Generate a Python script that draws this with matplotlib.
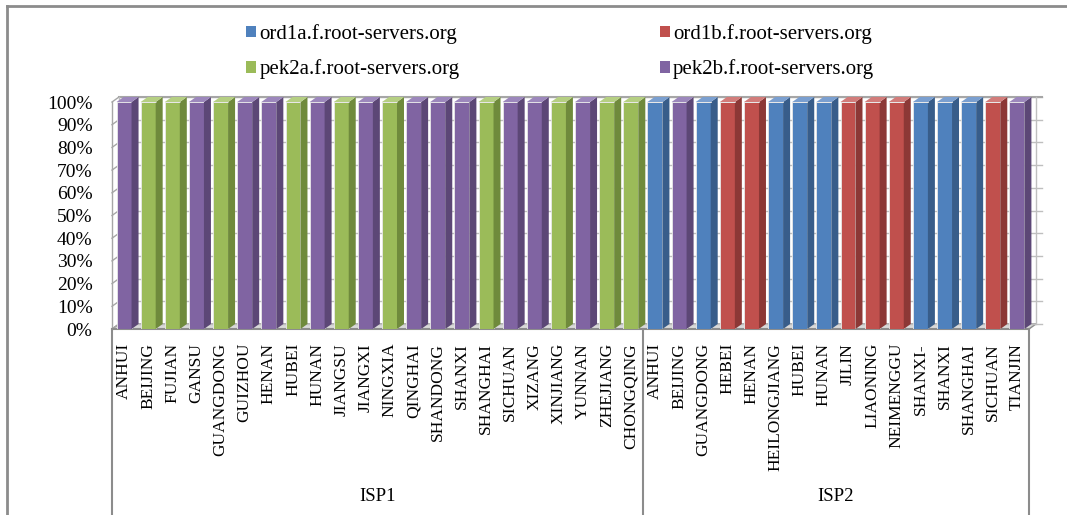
import matplotlib
matplotlib.use("Agg")
import matplotlib.pyplot as plt
import matplotlib.transforms as mtransforms
from matplotlib.patches import Polygon, Patch
import numpy as np

plt.rcParams['font.family'] = ['Liberation Serif', 'DejaVu Serif']

# provinces probed from each ISP
isp1_provinces = ['ANHUI', 'BEIJING', 'FUJIAN', 'GANSU', 'GUANGDONG', 'GUIZHOU',
                  'HENAN', 'HUBEI', 'HUNAN', 'JIANGSU', 'JIANGXI', 'NINGXIA',
                  'QINGHAI', 'SHANDONG', 'SHANXI', 'SHANGHAI', 'SICHUAN',
                  'XIZANG', 'XINJIANG', 'YUNNAN', 'ZHEJIANG', 'CHONGQING']
isp2_provinces = ['ANHUI', 'BEIJING', 'GUANGDONG', 'HEBEI', 'HENAN',
                  'HEILONGJIANG', 'HUBEI', 'HUNAN', 'JILIN', 'LIAONING',
                  'NEIMENGGU', 'SHANXI-', 'SHANXI', 'SHANGHAI', 'SICHUAN',
                  'TIANJIN']
groups = ['ISP1', 'ISP2']

# share of queries (%) answered by each F-root instance
isp1_ord1a = [0] * 22
isp1_ord1b = [0] * 22
isp1_pek2a = [0, 100, 100, 0, 100, 0, 0, 100, 0, 100, 0, 100, 0, 0, 0, 100, 0, 0, 100, 0, 100, 100]
isp1_pek2b = [100, 0, 0, 100, 0, 100, 100, 0, 100, 0, 100, 0, 100, 100, 100, 0, 100, 100, 0, 100, 0, 0]

isp2_ord1a = [100, 0, 100, 0, 0, 100, 100, 100, 0, 0, 0, 100, 100, 100, 0, 0]
isp2_ord1b = [0, 0, 0, 100, 100, 0, 0, 0, 100, 100, 100, 0, 0, 0, 100, 0]
isp2_pek2a = [0] * 16
isp2_pek2b = [0, 100, 0, 0, 0, 0, 0, 0, 0, 0, 0, 0, 0, 0, 0, 100]

servers = ['ord1a.f.root-servers.org', 'ord1b.f.root-servers.org',
           'pek2a.f.root-servers.org', 'pek2b.f.root-servers.org']
colors = ['#4F81BD', '#C0504D', '#9BBB59', '#8064A2']
side_colors = ['#385D8A', '#8C3836', '#6F8A3C', '#5C4776']
top_colors = ['#7A9FD0', '#D27C7A', '#B5CF82', '#9C87BC']

labels = isp1_provinces + isp2_provinces
series = [np.array(isp1_ord1a + isp2_ord1a), np.array(isp1_ord1b + isp2_ord1b),
          np.array(isp1_pek2a + isp2_pek2a), np.array(isp1_pek2b + isp2_pek2b)]
n = len(labels)
x = np.arange(n)

W, H = 1067, 515
fig = plt.figure(figsize=(W / 100, H / 100), dpi=100)
ax = fig.add_axes([112 / W, (H - 329) / H, 917 / W, 227 / H])
ax.set_xlim(-0.5, n - 0.5)
ax.set_ylim(0, 100)
for s in ax.spines.values():
    s.set_visible(False)

# depth of the 3-D box in data units
dx = 7 / (917 / n)
dy = 5 / 227 * 100
grey = '#8C8C8C'

# floor
ax.add_patch(Polygon([(-0.5, 0), (n - 0.5, 0), (n - 0.5 + dx, dy), (-0.5 + dx, dy)],
                     closed=True, facecolor='#D9D9D9', edgecolor=grey, lw=1,
                     clip_on=False, zorder=1))
# back wall gridlines + left wall
yt = np.arange(0, 101, 10)
for v in yt:
    ax.plot([-0.5 + dx, n - 0.5 + dx + 0.25], [v + dy, v + dy], color='#BFBFBF',
            lw=1, clip_on=False, zorder=1)
    ax.plot([-0.5, -0.5 + dx], [v, v + dy], color='#A6A6A6', lw=1,
            clip_on=False, zorder=1)
ax.plot([-0.5 + dx, n - 0.5 + dx + 0.25], [100 + dy, 100 + dy], color='#A6A6A6',
        lw=1.5, clip_on=False, zorder=1)
ax.plot([-0.5, -0.5], [0, 100], color='#A6A6A6', lw=1, clip_on=False, zorder=1)
ax.plot([-0.5 + dx, -0.5 + dx], [dy, 100 + dy], color='#BFBFBF', lw=1,
        clip_on=False, zorder=1)
ax.plot([n - 0.5 + dx, n - 0.5 + dx], [dy, 100 + dy], color='#BFBFBF', lw=1,
        clip_on=False, zorder=1)

# stacked 100% columns with side and top faces
bottom = np.zeros(n)
for vals, c, sc, tc in zip(series, colors, side_colors, top_colors):
    bars = ax.bar(x, vals, 0.62, bottom=bottom, color=c, edgecolor='#E8E8E8',
                  lw=0.6, zorder=3)
    for r in bars:
        if r.get_height() <= 0:
            continue
        x0, y0 = r.get_x(), r.get_y()
        x1, y1 = x0 + r.get_width(), y0 + r.get_height()
        ax.add_patch(Polygon([(x1, y0), (x1 + dx, y0 + dy), (x1 + dx, y1 + dy), (x1, y1)],
                             closed=True, facecolor=sc, edgecolor='none',
                             clip_on=False, zorder=3))
        ax.add_patch(Polygon([(x0, y1), (x1, y1), (x1 + dx, y1 + dy), (x0 + dx, y1 + dy)],
                             closed=True, facecolor=tc, edgecolor='none',
                             clip_on=False, zorder=3))
    bottom = bottom + vals

ax.set_yticks(yt)
ax.set_yticklabels(['%d%%' % v for v in yt], fontsize=14)
ax.set_xticks(x)
ax.set_xticklabels(labels, rotation=90, fontsize=12.5, va='top')
ax.tick_params(axis='y', length=0, pad=14)
ax.tick_params(axis='x', length=0, pad=10)

# category axis box and ISP group labels
trans = mtransforms.blended_transform_factory(ax.transData, ax.transAxes)
ax.plot([-0.5, n - 0.5], [0, 0], color=grey, lw=1.5, transform=trans, clip_on=False)
edges = [-0.5, len(isp1_provinces) - 0.5, n - 0.5]
for e in edges:
    ax.plot([e, e], [0, -0.85], color=grey, lw=1.5, transform=trans, clip_on=False)
for g, a, b in zip(groups, edges[:-1], edges[1:]):
    ax.text((a + b) / 2, -0.74, g, transform=trans, ha='center', va='center',
            fontsize=13.5)

# outer chart frame (top and left edges)
fig.add_artist(plt.Line2D([7 / W, 1], [(H - 6) / H, (H - 6) / H], color=grey, lw=2,
                          transform=fig.transFigure))
fig.add_artist(plt.Line2D([7 / W, 7 / W], [0, (H - 6) / H], color=grey, lw=2,
                          transform=fig.transFigure))

# legend: two columns, filled column-first
order = [0, 2, 1, 3]
handles = [Patch(facecolor=colors[i], edgecolor='none') for i in order]
fig.legend(handles, [servers[i] for i in order], ncol=2, loc='upper left',
           bbox_to_anchor=(246 / W, (H - 24) / H), frameon=False, fontsize=15,
           handlelength=0.5, handleheight=0.5, handletextpad=0.15,
           columnspacing=9.6, labelspacing=0.75, borderpad=0, borderaxespad=0)

plt.savefig('out.png', dpi=100)
